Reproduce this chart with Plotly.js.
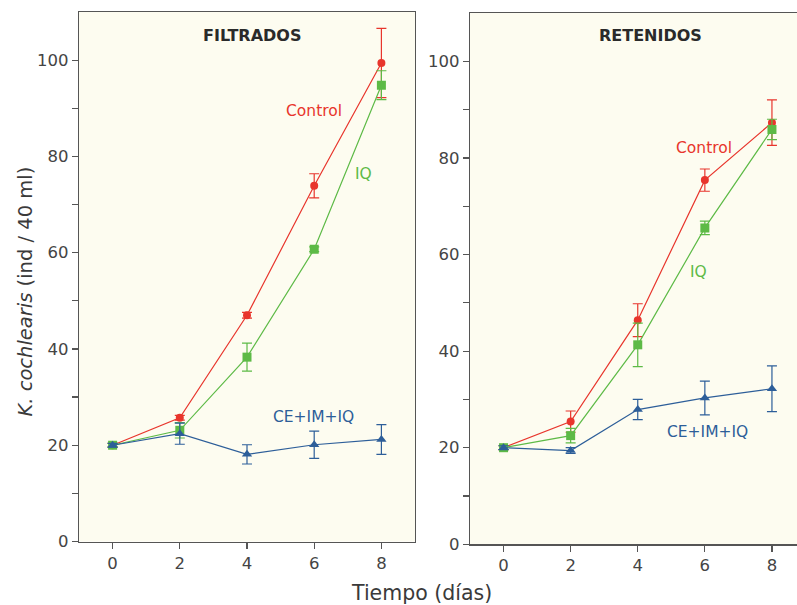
<!DOCTYPE html>
<html>
<head>
<meta charset="utf-8">
<script src="https://cdn.plot.ly/plotly-3.0.1.min.js"></script>
<style>
  html, body { margin: 0; padding: 0; background: #ffffff; overflow: hidden; }
  #chart { width: 840px; height: 605px; }
</style>
</head>
<body>
<div id="chart"></div>
<script>
// Sampling days
const dias = [0, 2, 4, 6, 8];

// Y-axis ticks: every 10, labelled every 20
const yTickVals = [0, 10, 20, 30, 40, 50, 60, 70, 80, 90, 100];
const yTickText = ['0', '', '20', '', '40', '', '60', '', '80', '', '100'];

// FILTRADOS: mean abundance and error
const filtControl    = [20, 25.7, 47.0, 73.9, 99.4];
const filtControlErr = [0.4, 0.5, 0.6, 2.5, 7.2];
const filtIQ         = [20, 23.1, 38.3, 60.7, 94.8];
const filtIQErr      = [0.4, 1.6, 2.9, 0.5, 3.0];
const filtCE         = [20, 22.4, 18.1, 20.1, 21.2];
const filtCEErr      = [0.4, 2.2, 2.0, 2.85, 3.1];

// RETENIDOS: mean abundance and error
const retControl    = [20, 25.4, 46.4, 75.4, 87.3];
const retControlErr = [0.4, 2.2, 3.4, 2.3, 4.7];
const retIQ         = [20, 22.5, 41.3, 65.5, 85.9];
const retIQErr      = [0.4, 1.5, 4.5, 1.4, 2.1];
const retCE         = [20, 19.4, 27.9, 30.3, 32.2];
const retCEErr      = [0.4, 0.6, 2.1, 3.5, 4.75];

const panelTitles = ['FILTRADOS', 'RETENIDOS'];
const seriesNames = ['Control', 'IQ', 'CE+IM+IQ'];

const colors = { Control: '#e8352c', IQ: '#5dba46', CE: '#2d5e99' };
const symbols = { Control: 'circle', IQ: 'square', CE: 'triangle-up' };
const font = 'DejaVu Sans, Verdana, sans-serif';

function serie(y, err, key, xa, ya) {
  return {
    x: dias, y: y, xaxis: xa, yaxis: ya,
    type: 'scatter', mode: 'lines+markers',
    line: { color: colors[key], width: 1.2 },
    marker: { symbol: symbols[key], size: key === 'Control' ? 8 : 9, color: colors[key] },
    error_y: { type: 'data', array: err, visible: true, color: colors[key], thickness: 1.2, width: 5 },
    showlegend: false, hoverinfo: 'x+y'
  };
}

const data = [
  serie(filtControl, filtControlErr, 'Control', 'x', 'y'),
  serie(filtIQ, filtIQErr, 'IQ', 'x', 'y'),
  serie(filtCE, filtCEErr, 'CE', 'x', 'y'),
  serie(retControl, retControlErr, 'Control', 'x2', 'y2'),
  serie(retIQ, retIQErr, 'IQ', 'x2', 'y2'),
  serie(retCE, retCEErr, 'CE', 'x2', 'y2')
];

const W = 840, H = 605;
const axisColor = '#555555';

function xAxis(domain, anchor) {
  return {
    domain: domain, anchor: anchor, range: [-1, 9],
    tickmode: 'array', tickvals: dias, ticks: 'outside', ticklen: 6, tickwidth: 1.2, tickcolor: axisColor,
    showline: true, linecolor: axisColor, linewidth: 1.2, mirror: true,
    showgrid: false, zeroline: false,
    tickfont: { family: font, size: 16.5, color: '#444444' }
  };
}
function yAxis(domain, anchor) {
  return {
    domain: domain, anchor: anchor, range: [0, 110],
    tickmode: 'array', tickvals: yTickVals, ticktext: yTickText,
    ticks: 'outside', ticklen: 6, tickwidth: 1.2, tickcolor: axisColor,
    showline: true, linecolor: axisColor, linewidth: 1.2, mirror: true,
    showgrid: false, zeroline: false,
    tickfont: { family: font, size: 16.5, color: '#444444' }
  };
}

function label(xref, yref, x, y, text, color, extra) {
  return Object.assign({
    xref: xref, yref: yref, x: x, y: y, text: text, showarrow: false,
    xanchor: 'center', yanchor: 'middle',
    font: { family: font, size: 15.5, color: color }
  }, extra || {});
}

const annotations = [
  label('x', 'paper', 4.15, 1 - 35 / H, '<b>' + panelTitles[0] + '</b>', '#2a2a2a', { font: { family: font, size: 16, color: '#2a2a2a' } }),
  label('x2', 'paper', 4.37, 1 - 35 / H, '<b>' + panelTitles[1] + '</b>', '#2a2a2a', { font: { family: font, size: 16, color: '#2a2a2a' } }),

  label('x', 'y', 6.0, 89.5, seriesNames[0], colors.Control),
  label('x', 'y', 7.47, 76.4, seriesNames[1], colors.IQ),
  label('x', 'y', 5.97, 25.8, seriesNames[2], colors.CE),

  label('x2', 'y2', 5.97, 82.0, seriesNames[0], colors.Control),
  label('x2', 'y2', 5.82, 56.4, seriesNames[1], colors.IQ),
  label('x2', 'y2', 6.09, 23.3, seriesNames[2], colors.CE),

  label('paper', 'paper', 25 / W, 1 - 291.5 / H, '<i>K. cochlearis</i> (ind / 40 ml)', '#3a3a3a',
    { textangle: -90, font: { family: font, size: 19.5, color: '#3a3a3a' } }),
  label('paper', 'paper', 421.5 / W, 1 - 593 / H, 'Tiempo (días)', '#3a3a3a',
    { font: { family: font, size: 20.5, color: '#3a3a3a' } })
];

const layout = {
  width: W, height: H,
  margin: { l: 0, r: 0, t: 0, b: 0 },
  paper_bgcolor: '#ffffff',
  plot_bgcolor: '#fdfcf0',
  showlegend: false,
  xaxis: xAxis([79 / W, 415 / W], 'y'),
  yaxis: yAxis([1 - 541.5 / H, 1 - 12 / H], 'x'),
  xaxis2: xAxis([470 / W, 805.5 / W], 'y2'),
  yaxis2: yAxis([1 - 544.3 / H, 1 - 13 / H], 'x2'),
  annotations: annotations
};

Plotly.newPlot('chart', data, layout, { displayModeBar: false, staticPlot: true });
</script>
</body>
</html>
